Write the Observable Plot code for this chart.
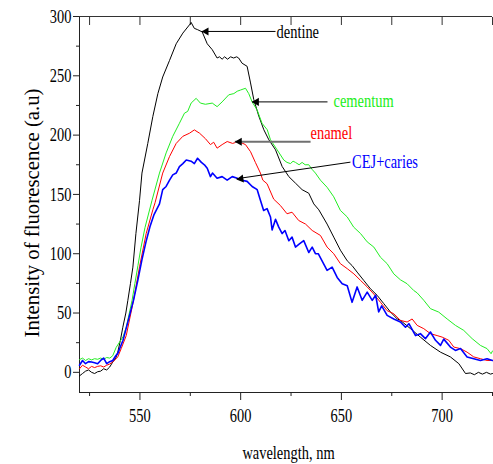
<!DOCTYPE html>
<html>
<head>
<meta charset="utf-8">
<script src="https://cdn.jsdelivr.net/npm/d3@7"></script>
<script src="https://cdn.jsdelivr.net/npm/@observablehq/plot@0.6"></script>
<style>
  html, body { margin: 0; padding: 0; background: #fff; }
</style>
</head>
<body>
<script>
// ---- data (wavelength nm, intensity a.u.) ----
const dentine = [
  [520,-3],[521.5,-1],[523,1],[524.5,2],[526,0],[527.5,-1],[529,0.5],[530.5,1],[532,3],[533.5,2],[535,4.5],
  [536.5,8.7],[538,12],[539,17],[540.3,27],[541.5,38],[543,50],[544,60.7],[545.3,75],[546.5,88.7],[548,117],
  [549.8,145],[551,168],[553.9,193],[556.4,215.7],[558.9,235],[561.3,249],[564.7,263],[568,277],[571.3,286],
  [574.6,293],[575.4,295],[577,290],[578.5,289],[580.9,287],[583.4,277],[585.9,272],[588.3,265],[589.5,266],
  [590.8,264],[592,266],[593.5,264],[595,266],[596.5,265],[598,266],[599,265],[600.7,260.6],[603.2,258],
  [604.9,244],[606.5,230],[609,216],[611.5,204.5],[614,196],[617.3,187.6],[620.6,173.5],[623.9,165],
  [627.2,159.5],[630.5,154],[633.8,151],[636.3,142],[638.8,137],[642.9,125],[646.2,114],[649.5,103],
  [652.9,94],[655.3,90],[657.8,84.5],[661.1,77.5],[664.4,70.5],[667.7,65],[671,58],[674.3,51],[677.7,45],
  [679.3,43.8],[684.3,36.8],[689.2,29.7],[694.2,22.7],[699.2,17],[704.1,13],[708.3,7.3],[711.6,-1],
  [714,-0.5],[716,-2],[718,0],[720,-1.5],[722,0],[724,-1.5],[725,-1]
];
const cementum = [
  [520,10.7],[521.5,12],[523,10],[524.5,11.5],[526,10.5],[527.5,11.5],[529,11],[530.5,12],[532,11],
  [533.5,12.5],[535,12],[536.5,14],[538.2,21],[541.6,30],[543.2,38],[546.1,60.7],[547.5,75],[549,90],
  [550.5,105],[552.5,122],[556,145],[559.7,168],[563,185],[566.3,199],[569.6,210],[572.1,218.5],[573.7,220],
  [575.4,227],[577.9,231],[580,227],[582.5,226],[585.9,227],[588.3,224],[590.8,228],[594.1,234],[596.6,235],
  [598.3,237],[599.9,238],[602.4,239.5],[604,235],[605.7,228],[608.2,221],[610.6,210],[613.2,204.5],
  [614.8,196],[618.1,187.6],[621.4,179],[623,177],[624.7,176],[626,178],[627.2,177],[629,175],[630.5,177],
  [632,175],[633.8,175],[635.5,171],[637.1,168],[639.6,162],[642.9,156],[646.2,148],[649.5,136.5],
  [652.9,131],[656.1,122.4],[659.5,117],[662.8,110],[666.1,105.6],[669.4,97],[672.7,91.6],[676,83],
  [679.3,78],[682.6,74.7],[685.9,69],[687.6,67],[690.9,60.7],[694.2,53.7],[698.3,50.8],[702.5,45],
  [706.6,39.6],[710.7,35.4],[714.9,28.4],[719,22.7],[722.3,20],[724.3,15.7],[725,18]
];
const enamel = [
  [520,3],[521.5,6],[523,4.5],[524.5,3],[526,5],[527.5,4],[529,5],[530.5,5.5],[532,4.5],[533.5,6],[535,7],
  [536.5,8.7],[539,13],[540.7,20],[543.2,31],[546.5,58],[548,72],[549.8,89],[553.1,117],[556.4,137],
  [557.5,143],[561.3,168],[564.7,182],[568,193],[571.3,199],[574.6,201.6],[577,204.4],[579.6,201.6],
  [582.5,197],[585,192],[586.6,194],[588.3,189],[590.8,192],[593.3,194.6],[596,193],[599,194.6],
  [602.4,192],[604.9,186],[607.3,177],[609.8,168],[611,162],[613.1,159],[616.4,146],[619.7,140.7],
  [623,133.7],[625.5,135],[628.8,128],[632.2,125],[635.5,119.6],[639.6,115.4],[642.9,105.6],[646.2,100],
  [649.5,91.6],[652.9,87.4],[656.2,83],[659.5,77.5],[662.8,72],[666.1,66],[669.4,59],[672.7,52],[676,49.4],
  [679.3,43.8],[682.6,42.4],[685.1,45],[687.6,39.6],[690.9,36.8],[694.2,32.6],[697.5,31],[700,29.7],
  [703.3,27],[705.8,21.3],[709.1,20],[712.4,17],[715.7,13],[719,11.5],[722.3,10],[725,10]
];
const cejCaries = [
  [520,6],[521.5,10],[523,7.3],[524.5,9],[526,8.7],[527.5,8],[529,7.3],[530.5,10],[532,12],[533.5,7.3],
  [535,9],[536.5,10],[538,14],[539,16],[541.6,27],[543,36],[546.8,60.7],[549,78],[551,95],[553,110],
  [555,123],[557,133],[559.7,142],[561.3,154],[563,156.7],[564.7,162],[566.3,166.5],[568,168],[569.6,173.5],
  [571.3,176],[573,179],[575.4,178],[577,176],[578.6,180.5],[580.5,177],[582,175],[583.4,172],[585,165],
  [586,168],[588.3,163.6],[590.8,165],[593.3,162],[595.8,165],[598.3,163.6],[600.7,162],[603.2,161],
  [605.7,156.7],[608.2,154],[609.8,145],[611.4,136.5],[613.1,138],[614.8,131],[615.6,120],[617.3,129],
  [618.9,122.4],[620.6,117],[622,119.6],[623.9,111],[625.5,114],[627.2,105.6],[629,108],[631.3,111],
  [633.8,101],[635.5,105.6],[637.1,100],[638.5,100],[640.4,94],[642.9,86],[645.4,88.7],[647.9,80],
  [650.4,74.7],[652.9,73],[655.3,59],[657.8,72],[660.3,60.7],[662.8,67.6],[665.3,60.7],[667,65],
  [668.5,51],[670,56],[672.7,48],[676,45],[679.3,42.4],[681.8,38],[683.5,41],[686.8,31],[689.2,32.6],
  [691.7,28.4],[694.2,34],[696.7,27],[699.2,22.7],[700.8,28],[704.1,21.3],[706.6,18.5],[709.1,20],
  [712.4,13],[715.7,11.5],[719,10],[722.3,11.5],[725,10]
];

// ---- axes ----
const xDomain = [520, 725];
const yDomain = [-17, 300];
const xMajorTicks = [550, 600, 650, 700];
const xMinorTicks = [525, 575, 625, 675, 725];
const yMajorTicks = [0, 50, 100, 150, 200, 250, 300];
const yMinorTicks = [25, 75, 125, 175, 225, 275];
const xTitle = "wavelength, nm";
const yTitle = "Intensity of fluorescence (a.u)";

// ---- annotations ----
const annLabels = ["dentine", "cementum", "enamel", "CEJ+caries"];
const annLabelX = [617.8, 646.1, 634.7, 655.3];
const annLabelY = [286.9, 228.7, 202.2, 177.7];
const annTailX = [617.3, 643.1, 634.7, 654.5];
const annTailY = [287.4, 228.0, 194.4, 177.2];
const annTipX = [580.6, 605.6, 597.1, 597.9];
const annTipY = [287.4, 228.0, 194.4, 163.2];
const annHeadAngle = [-90, -90, -90, -98.3];

const labelColors = ["#000000", "#22ee22", "#ff0000", "#0000ff"];
const arrowColors = ["#000000", "#000000", "#707070", "#000000"];
const arrowWidths = [1, 1, 2, 1];

const ann = annLabels.map((t, i) => ({
  text: t, lx: annLabelX[i], ly: annLabelY[i],
  x1: annTailX[i], y1: annTailY[i], x2: annTipX[i], y2: annTipY[i],
  angle: annHeadAngle[i], color: labelColors[i], acolor: arrowColors[i], aw: arrowWidths[i]
}));

const FONT = "'Liberation Serif', 'Times New Roman', serif";
const blank = () => "";

const chart = Plot.plot({
  width: 493,
  height: 464,
  marginLeft: 79,
  marginRight: 1,
  marginTop: 16,
  marginBottom: 72,
  style: { fontFamily: FONT, fontSize: "19px", color: "#000", background: "#fff" },
  x: { domain: xDomain },
  y: { domain: yDomain },
  marks: [
    // frame lines
    Plot.ruleX([xDomain[0]], { stroke: "#222" }),
    Plot.ruleY([yDomain[0]], { stroke: "#222" }),
    Plot.ruleY([yDomain[1]], { stroke: "#333" }),
    // bottom axis
    Plot.axisX(xMajorTicks, { anchor: "bottom", tickSize: 8, tickPadding: 8, label: null, fontSize: 19, stroke: "#222" }),
    Plot.axisX(xMinorTicks, { anchor: "bottom", tickSize: 4, tickFormat: blank, label: null, stroke: "#222" }),
    // top axis (inward ticks)
    Plot.axisX([...xMajorTicks, ...xMinorTicks], { anchor: "top", tickSize: 8, dy: 8, tickFormat: blank, label: null, stroke: "#333" }),
    // left axis
    Plot.axisY(yMajorTicks, { anchor: "left", tickSize: 6, tickPadding: 2, label: null, fontSize: 19, stroke: "#222" }),
    Plot.axisY(yMinorTicks, { anchor: "left", tickSize: 3, tickFormat: blank, label: null, stroke: "#222" }),
    // axis titles
    Plot.text([yTitle], { frameAnchor: "left", textAnchor: "middle", rotate: -90, dx: -46.5, dy: 8.5, fontSize: 20, fill: "#000", lineAnchor: "middle" }),
    Plot.text([xTitle], { frameAnchor: "bottom", textAnchor: "middle", dx: 2.5, dy: 60, fontSize: 19, fill: "#000", lineAnchor: "middle" }),
    // spectra
    Plot.line(dentine, { stroke: "#000000", strokeWidth: 1 }),
    Plot.line(cementum, { stroke: "#22ee22", strokeWidth: 1 }),
    Plot.line(enamel, { stroke: "#ff0000", strokeWidth: 1 }),
    Plot.line(cejCaries, { stroke: "#0000ff", strokeWidth: 1.6 }),
    // annotation arrows
    Plot.link(ann, { x1: "x1", y1: "y1", x2: "x2", y2: "y2", stroke: "acolor", strokeWidth: "aw" }),
    Plot.dot(ann, { x: "x2", y: "y2", symbol: "triangle", r: 3, fill: "#000", stroke: "none", rotate: "angle", dx: 4.6 }),
    Plot.text(ann, { x: "lx", y: "ly", text: "text", fill: "color", textAnchor: "start", lineAnchor: "middle", fontSize: 19 })
  ]
});

document.body.appendChild(chart);

// condense horizontal text (the original uses a narrow Times face)
chart.querySelectorAll("text").forEach((t) => {
  const s = t.textContent;
  if (!s) return;
  const len = t.getComputedTextLength();
  if (!len) return;
  if (s === yTitle) {
    t.setAttribute("textLength", 249);
  } else {
    t.setAttribute("textLength", (len * 0.76).toFixed(2));
  }
  t.setAttribute("lengthAdjust", "spacingAndGlyphs");
});
</script>
</body>
</html>
